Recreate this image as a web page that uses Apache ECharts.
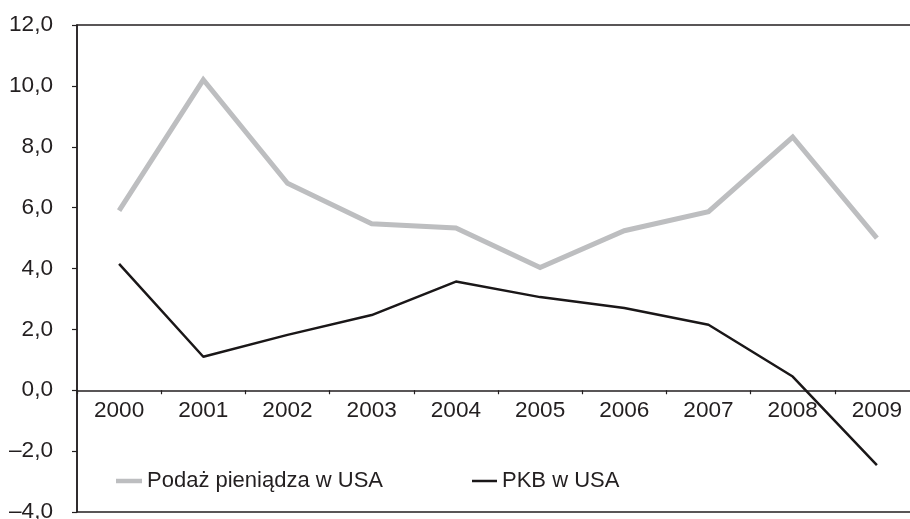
<!DOCTYPE html>
<html>
<head>
<meta charset="utf-8">
<script src="https://cdn.jsdelivr.net/npm/echarts@6/dist/echarts.min.js"></script>
<style>
  html, body { margin: 0; padding: 0; background: #fff; }
  #chart { width: 910px; height: 519px; }
</style>
</head>
<body>
<div id="chart"></div>
<script>
// dane
var years = ['2000', '2001', '2002', '2003', '2004', '2005', '2006', '2007', '2008', '2009'];
var podaz = [5.9, 10.2, 6.8, 5.47, 5.33, 4.03, 5.24, 5.87, 8.32, 5.0];
var pkb = [4.15, 1.1, 1.82, 2.47, 3.57, 3.06, 2.7, 2.15, 0.45, -2.46];
var seriesNames = ['Podaż pieniądza w USA', 'PKB w USA'];

var ink = '#231f20';
var font = 'Liberation Sans, Arial, sans-serif';
var yMin = -4, yMax = 12;
var gridTop = 25, gridH = 487;

function fmt(v) {
    return v.toFixed(1).replace('.', ',').replace('-', '–');
}

var chart = echarts.init(document.getElementById('chart'));

chart.setOption({
    animation: false,
    grid: {
        left: 77,
        top: gridTop,
        width: 842,
        height: gridH,
        show: true,
        borderColor: ink,
        borderWidth: 1.5,
        containLabel: false,
        outerBoundsMode: 'none'
    },
    legend: [
        {
            data: [seriesNames[0]],
            left: 111,
            top: 465,
            icon: 'rect',
            itemWidth: 26,
            itemHeight: 4.5,
            itemGap: 8,
            textStyle: { fontSize: 22, color: ink, fontFamily: font }
        },
        {
            data: [seriesNames[1]],
            left: 467,
            top: 465,
            icon: 'rect',
            itemWidth: 25,
            itemHeight: 2.5,
            itemGap: 8,
            textStyle: { fontSize: 22, color: ink, fontFamily: font }
        }
    ],
    xAxis: {
        type: 'category',
        data: years,
        boundaryGap: true,
        // oś X na wysokości zera
        offset: -gridH * (0 - yMin) / (yMax - yMin),
        axisLine: { onZero: false, lineStyle: { color: ink, width: 1.5 } },
        axisTick: { show: true, length: 4, lineStyle: { color: ink, width: 1.2 } },
        axisLabel: { fontSize: 22.6, color: ink, fontFamily: font, margin: 9 },
        splitLine: { show: false }
    },
    yAxis: {
        type: 'value',
        min: yMin,
        max: yMax,
        interval: 2,
        axisLine: { show: true, lineStyle: { color: ink, width: 1.5 } },
        axisTick: { show: true, length: 5, lineStyle: { color: ink, width: 1.2 } },
        axisLabel: { fontSize: 22.6, color: ink, fontFamily: font, margin: 24, formatter: fmt },
        splitLine: { show: false }
    },
    series: [
        {
            name: seriesNames[0],
            type: 'line',
            data: podaz,
            symbol: 'none',
            color: '#bdbec0',
            lineStyle: { color: '#bdbec0', width: 5, join: 'miter' }
        },
        {
            name: seriesNames[1],
            type: 'line',
            data: pkb,
            symbol: 'none',
            color: '#1a1718',
            lineStyle: { color: '#1a1718', width: 2.5 }
        }
    ]
});
</script>
</body>
</html>
